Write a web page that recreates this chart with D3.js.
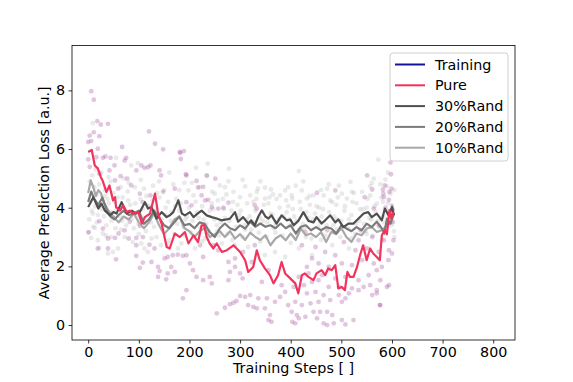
<!DOCTYPE html>
<html>
<head>
<meta charset="utf-8">
<script src="https://cdn.jsdelivr.net/npm/d3@7"></script>
<style>
  body { margin: 0; background: #fff; }
  svg { display: block; }
  text { font-family: "DejaVu Sans", sans-serif; }
</style>
</head>
<body>
<div id="chart"></div>
<script>
// Scatter of raw prediction losses, [step, loss]
var pureDots = [
  [6,7.97],[11,7.68],[18,6.95],[25,6.83],[39,6.86],[11,6.57],[3,6.46],[22,6.44],[6,6.27],[0,6.24],[120,6.6],[132,6.18],
  [148,5.99],[67,6.07],[19,6.01],[0,5.65],[3,5.39],[16,5.72],[29,5.7],[34,5.75],[44,5.7],[75,5.7],[72,5.61],[52,5.44],
  [105,5.44],[111,5.36],[118,5.38],[123,5.44],[141,5.27],[95,5.27],[42,5.27],[22,5.16],[64,5.08],[77,4.99],[53,4.93],
  [144,5.1],[181,5.9],[189,5.93],[194,5.1],[171,4.65],[123,4.42],[102,4.48],[85,4.76],[59,4.65],[148,4.54],[108,4.19],
  [182,5.87],[183,5.66],[251,4.99],[214,4.91],[234,5.1],[227,4.71],[193,5.14],[217,4.69],[224,4.42],[231,4.25],[237,4.27],
  [277,4.17],[244,4.02],[257,3.97],[267,4.0],[329,4.08],[333,3.97],[204,4.08],[194,4.19],[452,4.51],[488,4.59],[551,5.1],
  [598,5.14],[561,4.62],[582,4.62],[546,4.36],[584,4.36],[594,4.27],[564,3.97],[587,4.0],
  [22,3.54],[29,3.29],[1,3.17],[82,3.52],[72,3.23],[102,3.38],[53,2.97],[60,3.12],[80,2.95],[95,2.97],[108,3.0],[121,2.74],
  [39,2.61],[55,2.24],[95,2.36],[102,1.95],[108,2.13],[125,2.15],[138,1.98],[141,1.84],[138,1.64],[154,1.56],[157,1.76],
  [171,1.81],[151,2.27],[157,2.32],[167,2.38],[177,2.4],[187,2.36],[194,2.38],[164,1.98],[194,1.19],[187,0.91],[131,2.61],
  [95,2.72],[39,2.95],[19,2.61],
  [254,0.4],[270,0.59],[280,0.71],[287,0.76],[300,0.99],[310,0.96],[320,1.02],[316,0.68],[326,0.62],[336,0.91],[305,1.59],
  [280,1.81],[290,1.98],[244,1.42],[293,0.82],[333,0.57],[349,0.57],[359,0.34],[362,0.11],[356,0.17],[353,0.91],[369,0.79],
  [379,0.96],[389,1.13],[395,0.68],[402,0.45],[227,1.53],[240,1.64],[277,2.15],[290,2.27],[323,2.15],[201,2.1],[207,1.87],
  [214,1.64],[227,2.32],[257,2.55],[300,1.76],[356,1.87],[382,1.36],[343,1.47],[306,2.49],[329,2.72],[247,2.72],[221,2.72],
  [277,1.53],
  [403,0.11],[409,0.06],[416,0.23],[412,0.34],[429,0.28],[445,0.45],[452,0.23],[465,0.06],[472,0.0],[485,0.06],[501,0.17],
  [508,0.02],[524,0.17],[482,0.34],[472,0.45],[458,0.45],[439,0.74],[422,0.68],[409,0.79],[455,0.79],[478,0.85],[495,1.02],
  [501,0.79],[508,0.91],[515,1.08],[432,1.08],[449,1.13],[465,1.02],[406,1.3],[426,1.36],[442,1.47],[455,1.53],[475,1.3],
  [495,1.3],[521,1.25],[534,1.19],[544,1.3],[557,1.36],[570,1.08],[577,0.68],[561,1.02],[594,1.36],[416,1.64],[435,1.76],
  [462,1.7],[488,1.59],[508,1.64],[534,1.53],[554,1.7],[570,1.87],[577,1.53],[432,1.98],[455,2.1],[475,1.98],[501,2.1],
  [521,2.04],[541,2.21],[564,2.1],[580,1.98],[442,2.27],[468,2.49],[488,2.38],[528,2.55],[551,2.61],[574,2.49],[594,2.55],
  [422,2.72],[449,2.66],[505,2.83],[534,2.89],[561,3.0],[584,2.89],[429,3.17],[472,3.23],[538,3.23],[574,3.4],[590,3.34],
  [600,2.44],[593,2.21],[590,1.3],[576,0.68],[570,1.19],[603,2.89],[601,3.52],[599,4.65],[595,4.54],[586,4.76],[583,4.48],
  [597,5.54]
];

var randDots = [
  [9,6.88],[55,5.7],[85,5.44],[98,5.52],[236,5.5],[213,5.36],[278,5.33],[235,5.08],[277,4.9],[310,4.73],[349,4.68],
  [361,4.62],[389,4.59],[260,4.76],[287,4.54],[333,4.54],[402,4.42],[198,4.59],[208,4.42],[250,4.48],[300,4.36],[320,4.42],
  [379,4.42],[349,4.31],[416,5.25],[573,5.64],[475,4.8],[518,4.88],[501,4.48],[521,4.54],[564,4.99],[587,4.96],[577,4.8],
  [472,4.65],[422,4.59],[445,4.42],[465,4.42],[541,4.54],[557,4.73],[590,4.73],[432,4.31],[482,4.19],[403,4.31],[511,4.31],
  [557,4.42],[597,4.48],[570,4.14],[600,4.08],
  [0,3.15],[22,2.63],[39,2.44],[49,2.49],[59,2.61],[19,2.89],[6,2.97],[45,3.0],[105,2.78],[111,2.61],[118,2.49],[125,2.95],
  [144,2.72],[157,2.78],[177,2.61],[184,2.78],[88,2.83],[72,3.0],[29,3.12],[13,3.31],[211,2.61],[231,2.95],[264,2.78],
  [290,2.72],[316,2.66],[349,2.38],[369,2.49],[389,2.32],[416,2.61],[442,2.38],[482,2.72],[515,2.61],[544,2.66],
  [3,4.9],[8,5.1],[12,4.7],[16,4.45],[22,4.8],[26,5.2],[33,4.6],[38,4.3],[44,4.9],[50,4.5],[58,4.35],[64,4.7],[70,5.0],
  [78,4.55],[92,4.7],[104,4.95],[115,4.4],[128,4.75],[136,4.5],[150,4.6],[160,5.2],[168,4.8],[174,4.3],[190,4.85],[220,4.7],
  [244,4.15],[266,4.3],[295,4.1],[326,4.2],[340,4.9],[356,4.15],[372,4.3],[395,4.05],[410,4.75],[438,4.1],[456,4.0],
  [490,4.1],[530,4.15],[550,4.0],[582,4.2],[605,4.6],
  [2,3.6],[9,3.8],[17,3.5],[24,4.1],[31,3.7],[36,3.4],[47,3.85],[54,3.3],[62,4.0],[67,3.55],[75,3.4],[83,4.1],[90,3.3],
  [96,3.7],[108,3.95],[114,3.2],[121,4.05],[130,3.35],[138,3.8],[147,3.25],[153,4.0],[163,3.55],[170,3.1],[180,3.9],
  [188,3.35],[195,3.7],[203,3.15],[215,3.85],[222,3.3],[228,3.6],[238,3.2],[247,3.95],[254,3.4],[258,3.05],[270,3.65],
  [275,3.1],[283,3.9],[292,3.35],[298,3.75],[305,3.0],[313,3.6],[322,3.25],[330,3.9],[337,3.15],[345,3.55],[352,3.0],
  [360,3.8],[366,3.3],[376,3.6],[384,3.05],[392,3.85],[398,3.4],[407,3.7],[413,3.1],[420,3.95],[427,3.3],[434,3.65],
  [441,2.95],[448,3.8],[454,3.35],[461,3.7],[468,3.05],[476,3.85],[484,3.4],[492,3.6],[498,3.0],[506,3.9],[513,3.3],
  [520,3.75],[527,3.1],[535,3.55],[543,3.95],[548,3.2],[555,3.65],[562,3.05],[568,3.85],[575,3.35],[583,3.7],[588,3.1],
  [594,3.9],[599,3.4],[604,3.2],
  [4,4.2],[7,3.9],[14,4.05],[19,3.75],[27,3.95],[32,4.4],[41,4.15],[46,3.55],[53,4.2],[57,3.95],[63,3.7],[68,4.35],
  [74,3.85],[79,4.25],[86,3.6],[93,4.15],[99,3.45],[103,4.3],[109,3.65],[116,4.1],[124,3.5],[127,4.25],[133,3.9],
  [141,4.35],[145,3.6],[152,3.75],[158,4.2],[165,3.85],[172,4.05],[176,3.45],[183,4.15],[192,3.6],[199,4.0],[206,3.55],
  [212,4.2],[218,3.65],[225,4.05],[233,3.45],[240,3.9],[249,3.6],[256,4.25],[262,3.5],[268,3.95],[273,4.45],[279,3.55],
  [286,4.2],[294,3.65],[301,3.9],[308,3.4],[314,4.15],[319,3.7],[327,3.5],[332,4.3],[339,3.65],[347,4.1],[354,3.5],
  [358,4.35],[364,3.75],[370,3.45],[378,4.0],[386,3.7],[391,4.25],[397,3.6],[404,3.95],[411,3.55],[418,4.2],[424,3.45],
  [431,3.85],[437,4.4],[444,3.6],[451,4.05],[458,3.5],[464,3.95],[471,3.4],[478,4.25],[486,3.7],[493,4.35],[500,3.55],
  [507,4.05],[515,3.6],[522,4.2],[529,3.45],[537,3.95],[545,3.45],[552,4.3],[559,3.6],[566,4.05],[572,3.55],[579,4.35],
  [585,3.5],[592,4.15],[596,3.7],[602,3.5],
  [10,3.35],[35,3.05],[65,3.25],[100,3.1],[135,3.0],[160,2.9],[190,3.05],[225,2.85],[255,3.2],[285,2.9],[310,3.25],
  [340,2.85],[370,3.15],[400,2.8],[430,3.0],[460,2.9],[490,3.25],[520,2.95],[550,3.1],[580,2.9],[605,3.0],
  [15,5.3],[40,5.05],[80,4.85],[110,4.65],[140,4.9],[180,4.6],[205,4.85],[245,4.55],[270,4.7],[305,4.95],[335,4.65],
  [365,4.45],[395,4.7],[425,4.9],[460,4.6],[495,4.75],[525,4.5],[560,4.85],[592,5.2]
];

// Smoothed curves, [step, loss]
var pureLine = [
  [0,5.9],[7,5.97],[13,5.44],[19,5.34],[25,5.04],[29,4.9],[36,4.53],[42,4.76],[49,4.25],[53,4.36],[55,4.02],[63,3.9],
  [69,4.08],[76,3.85],[82,3.9],[89,3.8],[99,3.85],[106,3.46],[112,3.68],[122,3.8],[132,4.48],[138,3.8],[145,3.46],
  [155,2.66],[161,2.61],[171,3.12],[181,3.0],[191,3.17],[198,2.78],[208,3.06],[217,2.83],[224,3.4],[229,3.4],[234,3.0],
  [240,2.78],[247,2.61],[254,2.78],[264,2.49],[274,2.55],[287,2.72],[300,2.49],[310,2.21],[316,1.81],[326,1.98],
  [333,2.55],[339,2.21],[349,1.93],[359,1.7],[366,1.42],[375,1.7],[382,2.15],[389,1.76],[399,1.59],[409,1.42],[415,1.08],
  [422,1.7],[428,1.76],[435,1.64],[445,1.53],[451,1.76],[461,1.87],[468,1.7],[474,1.93],[481,1.87],[488,2.04],[494,1.25],
  [501,1.3],[507,1.19],[512,1.81],[517,1.64],[524,1.64],[531,1.98],[537,2.38],[543,2.72],[550,2.21],[557,2.61],
  [563,2.44],[570,2.32],[576,2.21],[580,3.06],[586,3.23],[590,3.1],[595,3.91],[599,3.63],[603,3.85]
];

var rand30Line = [
  [0,4.02],[10,4.36],[20,3.97],[26,4.14],[33,3.9],[43,3.74],[50,3.85],[56,3.8],[66,4.19],[76,3.8],[86,3.9],[94,3.8],
  [102,3.85],[112,4.19],[118,3.97],[125,4.02],[135,3.63],[145,3.85],[155,3.68],[162,3.75],[168,3.85],[178,4.25],[185,3.8],
  [191,3.74],[201,3.85],[208,3.68],[216,3.8],[224,3.9],[234,3.74],[244,3.68],[254,3.63],[263,3.57],[273,3.6],[280,3.63],
  [290,3.85],[296,3.52],[306,3.68],[316,3.46],[322,3.57],[329,3.4],[336,3.7],[343,3.91],[350,3.7],[356,3.63],[362,3.74],
  [372,3.46],[382,3.74],[392,3.57],[399,3.6],[406,3.4],[415,3.55],[425,3.85],[435,3.55],[445,3.5],[451,3.68],[461,3.46],
  [468,3.57],[478,3.74],[488,3.5],[494,3.6],[504,3.34],[514,3.46],[524,3.46],[534,3.63],[544,3.8],[553,3.85],[560,3.68],
  [570,3.8],[580,3.57],[586,3.97],[593,3.74],[600,4.02],[604,3.74]
];

var rand20Line = [
  [0,4.2],[6,4.55],[12,4.3],[20,4.1],[28,4.35],[36,3.95],[44,3.7],[52,3.6],[60,3.75],[70,3.9],[80,3.75],[90,3.8],
  [100,3.9],[110,3.45],[120,3.6],[130,3.9],[140,3.65],[150,3.4],[160,3.3],[170,3.5],[180,3.7],[190,3.4],[200,3.45],
  [210,3.3],[220,3.5],[230,3.45],[240,3.17],[250,3.0],[260,3.3],[270,3.46],[280,3.3],[290,3.23],[300,3.4],[310,3.29],
  [320,3.52],[330,3.35],[340,3.46],[350,3.35],[360,3.4],[370,3.3],[380,3.46],[390,3.3],[400,3.4],[410,3.12],[420,3.35],
  [430,3.4],[440,3.23],[450,3.34],[460,3.23],[470,3.34],[480,3.29],[490,3.12],[500,3.4],[510,3.29],[520,3.2],[530,3.34],
  [540,3.23],[550,3.46],[560,3.34],[570,3.52],[580,3.29],[585,3.12],[590,3.63],[597,3.46],[604,3.8]
];

var rand10Line = [
  [0,4.5],[5,4.93],[10,4.7],[15,4.4],[20,4.6],[25,4.5],[30,4.2],[40,3.9],[50,3.7],[60,3.5],[70,3.7],[80,3.6],[90,3.8],
  [100,3.5],[110,3.3],[120,3.5],[130,3.8],[140,3.4],[150,3.1],[160,3.3],[170,3.6],[180,3.7],[190,3.3],[200,3.2],[210,3.0],
  [220,3.2],[230,3.3],[240,3.0],[250,3.1],[260,3.2],[270,3.0],[280,3.2],[290,2.95],[300,3.1],[310,2.9],[320,3.15],
  [330,3.0],[340,2.9],[350,3.06],[360,2.72],[370,2.95],[380,3.06],[390,2.89],[400,3.12],[410,2.9],[420,3.29],[430,3.06],
  [440,3.12],[450,3.0],[460,3.17],[470,2.83],[480,3.17],[490,3.1],[500,3.3],[510,3.0],[520,2.83],[530,3.12],[540,3.06],
  [550,3.29],[560,3.34],[570,3.17],[580,3.23],[590,3.4],[597,3.46],[600,4.08],[604,3.9]
];

var legendNames = ["Training", "Pure", "30%Rand", "20%Rand", "10%Rand"];
var legendColors = ["#14149b", "#f2335c", "#4f4f4f", "#7b7b7b", "#a8a8a8"];
var xTicks = [0, 100, 200, 300, 400, 500, 600, 700, 800];
var yTicks = [0, 2, 4, 6, 8];

// Figure layout
var W = 573, H = 382;
var fontSize = "14.3px";
var margin = {top: 45.5, right: 58, bottom: 42, left: 72},
    width = W - margin.left - margin.right,
    height = H - margin.top - margin.bottom;

var xScale = d3.scaleLinear().domain([-32, 843]).range([0, width]),
    yScale = d3.scaleLinear().domain([-0.51, 9.53]).range([height, 0]);

var svg = d3.select("#chart")
  .append("svg")
    .attr("width", W)
    .attr("height", H)
  .append("g")
    .attr("transform", "translate(" + margin.left + "," + margin.top + ")");

// scatter clouds (rand underneath, pure on top)
svg.append("g").selectAll("circle")
    .data(randDots)
  .enter().append("circle")
    .attr("cx", function (d) { return xScale(d[0]); })
    .attr("cy", function (d) { return yScale(d[1]); })
    .attr("r", 2.4)
    .attr("fill", "#9a9a9a")
    .attr("fill-opacity", 0.22);

svg.append("g").selectAll("circle")
    .data(pureDots)
  .enter().append("circle")
    .attr("cx", function (d) { return xScale(d[0]); })
    .attr("cy", function (d) { return yScale(d[1]); })
    .attr("r", 2.4)
    .attr("fill", "#8a1a84")
    .attr("fill-opacity", 0.25);

var line = d3.line()
    .x(function (d) { return xScale(d[0]); })
    .y(function (d) { return yScale(d[1]); });

var curves = [rand10Line, rand20Line, rand30Line, pureLine];
var curveColors = [legendColors[4], legendColors[3], legendColors[2], legendColors[1]];
curves.forEach(function (c, i) {
  svg.append("path")
    .attr("d", line(c))
    .attr("fill", "none")
    .attr("stroke", curveColors[i])
    .attr("stroke-width", 2.2)
    .attr("stroke-linejoin", "round");
});

// axes
var xAxis = d3.axisBottom(xScale).tickValues(xTicks).tickSize(3.5).tickPadding(3.5),
    yAxis = d3.axisLeft(yScale).tickValues(yTicks).tickSize(3.5).tickPadding(3.5);

var gx = svg.append("g")
  .attr("transform", "translate(0," + height + ")")
  .call(xAxis);
var gy = svg.append("g").call(yAxis);

[gx, gy].forEach(function (g) {
  g.select(".domain").remove();
  g.selectAll("line").attr("stroke", "#000").attr("stroke-width", 0.8);
  g.selectAll("text")
    .attr("fill", "#000")
    .style("font-size", fontSize)
    .style("font-family", "'DejaVu Sans', sans-serif");
});

svg.append("rect")
  .attr("width", width)
  .attr("height", height)
  .attr("fill", "none")
  .attr("stroke", "#000")
  .attr("stroke-width", 0.8);

svg.append("text")
  .attr("x", width / 2)
  .attr("y", height + 33)
  .attr("text-anchor", "middle")
  .style("font-size", fontSize)
  .text("Training Steps [ ]");

svg.append("text")
  .attr("transform", "rotate(-90)")
  .attr("x", -height / 2)
  .attr("y", -23)
  .attr("text-anchor", "middle")
  .style("font-size", fontSize)
  .text("Average Prediction Loss [a.u.]");

// legend
var legend = svg.append("g")
  .attr("transform", "translate(" + (390 - margin.left) + "," + (53 - margin.top) + ")");

legend.append("rect")
  .attr("width", 118)
  .attr("height", 108)
  .attr("rx", 3)
  .attr("fill", "#fff")
  .attr("fill-opacity", 0.8)
  .attr("stroke", "#d0d0d0")
  .attr("stroke-width", 1);

legendNames.forEach(function (name, i) {
  var yy = 11.5 + i * 20.8;
  legend.append("line")
    .attr("x1", 5).attr("x2", 35)
    .attr("y1", yy).attr("y2", yy)
    .attr("stroke", legendColors[i])
    .attr("stroke-width", 2);
  legend.append("text")
    .attr("x", 45)
    .attr("y", yy)
    .attr("dy", "0.35em")
    .style("font-size", fontSize)
    .text(name);
});
</script>
</body>
</html>
